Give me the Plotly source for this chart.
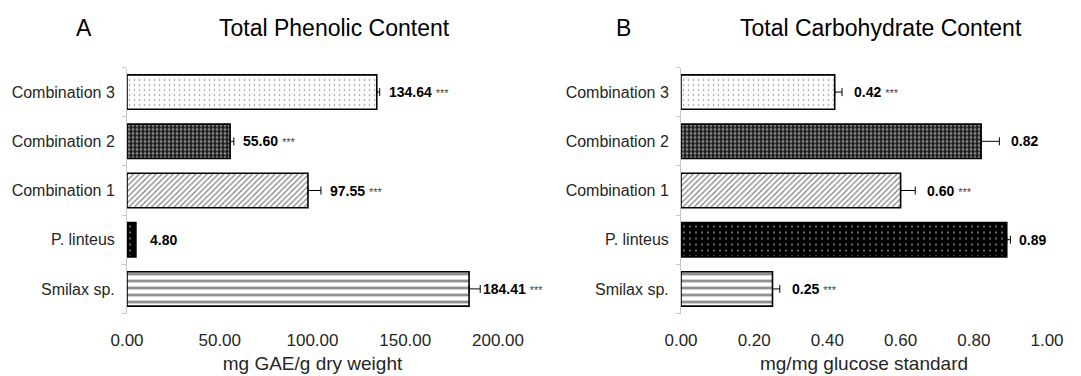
import plotly.graph_objects as go
from plotly.subplots import make_subplots

# Samples, listed bottom to top
categories = ["Smilax sp.", "P. linteus", "Combination 1", "Combination 2", "Combination 3"]

# Total phenolic content (mg GAE/g dry weight)
phenolic = [184.41, 4.80, 97.55, 55.60, 134.64]
phenolic_err = [6.0, 0.0, 7.0, 2.0, 1.6]
phenolic_sig = ["***", "", "***", "***", "***"]

# Total carbohydrate content (mg/mg glucose standard)
carbohydrate = [0.25, 0.89, 0.60, 0.82, 0.42]
carbohydrate_err = [0.02, 0.01, 0.04, 0.05, 0.02]
carbohydrate_sig = ["***", "", "***", "", "***"]

phenolic_ticks = [0, 50, 100, 150, 200]
carbohydrate_ticks = [0, 0.2, 0.4, 0.6, 0.8, 1.0]

W, H = 1081, 376
FONT = "Liberation Sans, Arial, sans-serif"

# fill pattern per sample
patterns = {
    "Smilax sp.": dict(shape="-", fgcolor="black", bgcolor="white", size=7, solidity=0.35),
    "P. linteus": dict(shape=".", fgcolor="white", bgcolor="black", size=6, solidity=0.1),
    "Combination 1": dict(shape="/", fgcolor="black", bgcolor="white", size=4, solidity=0.3),
    "Combination 2": dict(shape=".", fgcolor="white", bgcolor="#151515", size=4, solidity=0.42),
    "Combination 3": dict(shape=".", fgcolor="black", bgcolor="white", size=5, solidity=0.08),
}

fig = make_subplots(rows=1, cols=2)


def add_panel(values, errs, col):
    for cat, v, e in zip(categories, values, errs):
        fig.add_trace(
            go.Bar(
                x=[v], y=[cat], orientation="h", width=0.7,
                marker=dict(color=patterns[cat]["bgcolor"], pattern=patterns[cat],
                            line=dict(color="black", width=1.6)),
                error_x=dict(type="data", array=[e], arrayminus=[0], symmetric=False,
                             color="black", thickness=1, width=4, visible=e > 0),
                showlegend=False, hoverinfo="x+y",
            ),
            row=1, col=col,
        )


add_panel(phenolic, phenolic_err, 1)
add_panel(carbohydrate, carbohydrate_err, 2)


# value labels beside each bar
def label_text(v, fmt, sig):
    txt = f"<b>{v:{fmt}}</b>"
    if sig:
        txt += f" <span style='font-size:11px;color:#444'>{sig}</span>"
    return txt


annotations = []
for cat, v, e, s in zip(categories, phenolic, phenolic_err, phenolic_sig):
    shift = {"Smilax sp.": 1, "P. linteus": 12}.get(cat, 7)
    annotations.append(dict(x=v + e, y=cat, xref="x", yref="y", text=label_text(v, ".2f", s),
                            showarrow=False, xanchor="left", xshift=shift,
                            font=dict(family=FONT, size=14, color="black")))
for cat, v, e, s in zip(categories, carbohydrate, carbohydrate_err, carbohydrate_sig):
    shift = 7 if cat == "P. linteus" else 10
    annotations.append(dict(x=v + e, y=cat, xref="x2", yref="y2", text=label_text(v, ".2f", s),
                            showarrow=False, xanchor="left", xshift=shift,
                            font=dict(family=FONT, size=14, color="black")))

# panel letters and titles
title_y = 1 - 28 / H
title_font = dict(family=FONT, size=23, color="black")
annotations += [
    dict(x=84 / W, y=title_y, xref="paper", yref="paper", text="A", showarrow=False,
         xanchor="center", yanchor="middle", font=title_font),
    dict(x=334 / W, y=title_y, xref="paper", yref="paper", text="Total Phenolic Content",
         showarrow=False, xanchor="center", yanchor="middle", font=title_font),
    dict(x=623 / W, y=title_y, xref="paper", yref="paper", text="B", showarrow=False,
         xanchor="center", yanchor="middle", font=title_font),
    dict(x=881 / W, y=title_y, xref="paper", yref="paper", text="Total Carbohydrate Content",
         showarrow=False, xanchor="center", yanchor="middle", font=title_font),
]

y_dom = [1 - 313.5 / H, 1 - 67.5 / H]
xaxis_common = dict(showgrid=False, zeroline=False, showline=False, ticks="",
                    tickformat=".2f", ticklabelstandoff=14, automargin=False,
                    tickfont=dict(family=FONT, size=17, color="#262626"),
                    title_font=dict(family=FONT, size=19, color="#262626"),
                    title_standoff=8)
yaxis_common = dict(type="category", categoryorder="array", categoryarray=categories,
                    range=[-0.5, 4.5], showgrid=False, zeroline=False, automargin=False,
                    showline=True, linecolor="#c8c8c8", linewidth=1,
                    ticks="outside", tickson="boundaries", ticklen=4, tickcolor="#c8c8c8",
                    ticklabelstandoff=8,
                    tickfont=dict(family=FONT, size=16, color="#262626"), domain=y_dom)

fig.update_layout(
    width=W, height=H, margin=dict(l=0, r=0, t=0, b=0),
    paper_bgcolor="white", plot_bgcolor="white", barmode="overlay",
    xaxis=dict(domain=[127 / W, 498 / W], range=[0, 200], tickvals=phenolic_ticks,
               title_text="mg GAE/g dry weight", **xaxis_common),
    xaxis2=dict(domain=[681 / W, 1047 / W], range=[0, 1], tickvals=carbohydrate_ticks,
                title_text="mg/mg glucose standard", **xaxis_common),
    yaxis=dict(**yaxis_common),
    yaxis2=dict(**yaxis_common),
    annotations=annotations,
)

fig.write_html("out.html")
